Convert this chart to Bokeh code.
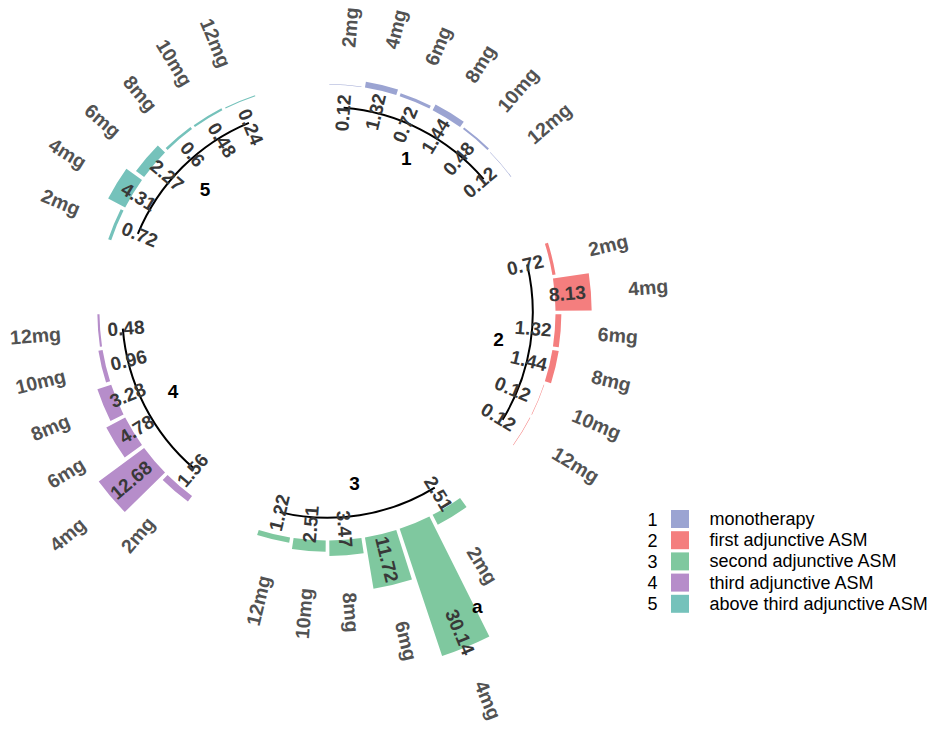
import math
from bokeh.plotting import figure
from bokeh.models import Range1d, ColumnDataSource
from bokeh.core.properties import value
from bokeh.embed import file_html
from bokeh.resources import INLINE

# ---------------- data ----------------
doses = ["2mg", "4mg", "6mg", "8mg", "10mg", "12mg"]
group_ids = ["1", "2", "3", "4", "5"]
group_names = ["monotherapy", "first adjunctive ASM", "second adjunctive ASM",
               "third adjunctive ASM", "above third adjunctive ASM"]
group_colors = ["#9BA4D2", "#F47E7E", "#7FC89F", "#B68DCA", "#75C2BB"]

monotherapy = [0.12, 1.32, 0.72, 1.44, 0.48, 0.12]
first_adj = [0.72, 8.13, 1.32, 1.44, 0.12, 0.12]
second_adj = [2.51, 30.14, 11.72, 3.47, 2.51, 1.22]
third_adj = [1.56, 12.68, 4.78, 3.28, 0.96, 0.48]
above_third = [0.72, 4.31, 2.27, 0.6, 0.48, 0.24]
series = [monotherapy, first_adj, second_adj, third_adj, above_third]

annotation_group = 2      # second adjunctive ASM
annotation_dose = 1       # 4mg
annotation_text = "a"

# ---------------- layout (polar scale) ----------------
K = 4.45                     # px per value unit
R0 = 228 / K                 # inner radius (value 0)
CX, CY = 327, 312            # centre of the circle in picture pixels
W, H = 927, 729
n_empty = 2
n_per = len(doses) + n_empty
n_slots = n_per * len(group_ids)
slot = 360.0 / n_slots
bar_w = 0.9
FONT = "Liberation Sans"

def theta(g, i):
    return (g * n_per + i + 0.5) * slot   # degrees clockwise from top

def pol(r, th):
    return r * math.sin(math.radians(th)), r * math.cos(math.radians(th))

p = figure(width=W, height=H,
           x_range=Range1d(-CX / K, (W - CX) / K), y_range=Range1d((CY - H) / K, CY / K),
           output_backend="svg", toolbar_location=None, min_border=0,
           x_axis_location=None, y_axis_location=None)
p.grid.visible = False
p.outline_line_color = None
p.background_fill_color = "white"
p.border_fill_color = "white"

bars = dict(inner=[], outer=[], start=[], end=[], color=[])
vlab = dict(x=[], y=[], text=[], angle=[], align=[])
dlab = dict(x=[], y=[], text=[], angle=[], align=[])
for g, vals in enumerate(series):
    for i, v in enumerate(vals):
        th = theta(g, i)
        phi = 90 - th
        hw = bar_w * slot / 2
        bars["inner"].append(R0)
        bars["outer"].append(R0 + v)
        bars["start"].append(math.radians(phi - hw))
        bars["end"].append(math.radians(phi + hw))
        bars["color"].append(group_colors[g])
        right = th < 180
        ang = math.radians(phi if right else phi + 180)
        # value label (outer end near bar top, extends inward)
        x, y = pol(R0 - 2.2 + 1.13 * v, th)
        vlab["x"].append(x); vlab["y"].append(y)
        vlab["text"].append(f"{v:g}")
        vlab["angle"].append(ang)
        vlab["align"].append("right" if right else "left")
        # dose label beyond bar top
        x, y = pol(R0 + v + 8.4, th)
        dlab["x"].append(x); dlab["y"].append(y)
        dlab["text"].append(doses[i])
        dlab["angle"].append(ang)
        dlab["align"].append("left" if right else "right")

p.annular_wedge(x=0, y=0, inner_radius="inner", outer_radius="outer",
                start_angle="start", end_angle="end", fill_color="color",
                line_color=None, source=ColumnDataSource(bars))

# black group arcs + group numbers
for g in range(len(group_ids)):
    t0, t1 = theta(g, 0), theta(g, len(doses) - 1)
    p.arc(x=0, y=0, radius=R0 - 5.1, start_angle=math.radians(90 - t1),
          end_angle=math.radians(90 - t0), line_color="black", line_width=2)
    x, y = pol(R0 - 12.3, (t0 + t1) / 2)
    p.text(x=[x], y=[y], text=[group_ids[g]], text_align="center",
           text_baseline="middle", text_font=value(FONT), text_font_size="19px",
           text_font_style="bold", text_color="black")

p.text(x="x", y="y", text="text", angle="angle", text_align="align",
       text_baseline="middle", text_font=value(FONT), text_font_size="19px",
       text_font_style="bold", text_color="#383838", source=ColumnDataSource(vlab))
p.text(x="x", y="y", text="text", angle="angle", text_align="align",
       text_baseline="middle", text_font=value(FONT), text_font_size="19.5px",
       text_font_style="bold", text_color="#525252", source=ColumnDataSource(dlab))

# annotation "a"
va = series[annotation_group][annotation_dose]
th_a = theta(annotation_group, annotation_dose) - slot / 2
x, y = pol(R0 + 0.76 * va, th_a)
p.text(x=[x], y=[y], text=[annotation_text], text_align="center",
       text_baseline="middle", text_font=value(FONT), text_font_size="19px",
       text_font_style="bold", text_color="black")

# legend (manual, right side)
def sx(px):
    return (px - CX) / K

def sy(py):
    return (CY - py) / K

leg_y = [sy(518.5 + 21.2 * k) for k in range(len(group_ids))]
p.text(x=[sx(652)] * len(group_ids), y=leg_y, text=group_ids, text_align="center",
       text_baseline="middle", text_font=value(FONT), text_font_size="18px",
       text_color="black")
p.rect(x=[sx(679.5)] * len(group_ids), y=leg_y, width=18 / K, height=18 / K,
       fill_color=group_colors, line_color=None)
p.text(x=[sx(709)] * len(group_ids), y=leg_y, text=group_names, text_align="left",
       text_baseline="middle", text_font=value(FONT), text_font_size="18px",
       text_color="black")

open("out.html", "w").write(file_html(p, INLINE))
